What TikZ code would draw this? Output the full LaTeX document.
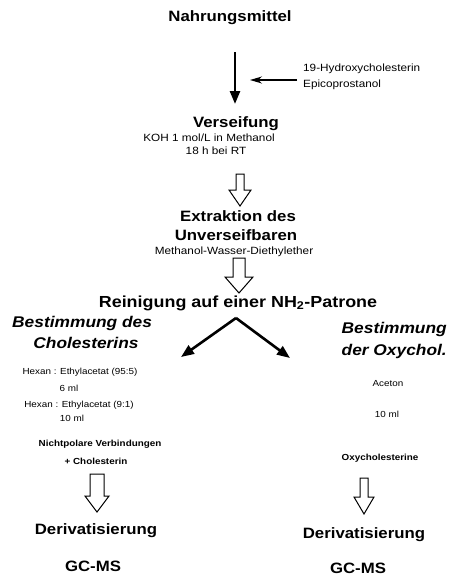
\documentclass[tikz,border=0pt]{standalone}
\usepackage{fontspec}
\setmainfont{Liberation Sans}[FakeStretch=1.12]
\usetikzlibrary{arrows.meta,calc}
\newcommand\hollowarrow[5]{%
  \draw[hollowst] let \p1=(#1),\p2=(#2) in
    (\x1-#3,\y1) -- (\x1+#3,\y1) -- (\x1+#3,\y2+#5) -- (\x1+#4,\y2+#5)
    -- (\x2,\y2) -- (\x1-#4,\y2+#5) -- (\x1-#3,\y2+#5) -- cycle;}
\begin{document}
\begin{tikzpicture}[x=1pt,y=-1pt,
  every node/.style={inner sep=0pt, align=center},
  head/.style={font=\bfseries\fontsize{15}{17}\selectfont},
  headlg/.style={font=\bfseries\fontsize{16}{18}\selectfont},
  branch/.style={font=\bfseries\itshape\fontsize{15.5}{18}\selectfont},
  mid/.style={font=\fontsize{10.5}{12}\selectfont},
  small/.style={font=\fontsize{8.8}{10}\selectfont},
  smallb/.style={font=\bfseries\fontsize{8.8}{10}\selectfont},
  thick arrow/.style={line width=2.6pt, -{Triangle[length=13pt,width=10pt]}},
  thin arrow/.style={line width=1.3pt, -{Stealth[length=12pt,width=7pt]}},
  hollowst/.style={draw=black, line width=1pt, fill=white, line join=miter}]
\useasboundingbox (0,0) rectangle (451,576);
\fill[white] (0,0) rectangle (451,576);

\node[head] (nahr) at (230,18) {Nahrungsmittel};
\coordinate (a1) at (235,52);
\coordinate (a2) at (235,104);
\draw[thick arrow] (a1) -- (a2);
\node[mid, anchor=west] (hyd) at (303,69) {19-Hydroxycholesterin};
\node[mid, anchor=west] (epi) at (303,85) {Epicoprostanol};
\coordinate (ha) at (297,80);
\coordinate (hb) at (250,80);
\draw[thin arrow] (ha) -- (hb);

\node[head] (vers) at (236,124) {Verseifung};
\node[mid] (koh) at (209,138) {KOH 1 mol/L in Methanol};
\node[mid] (rt) at (216,151) {18 h bei RT};

\coordinate (h1a) at (240,174);
\coordinate (h1b) at (240,206);
\hollowarrow{h1a}{h1b}{4}{11}{16}

\node[head] (ext) at (238,216) {Extraktion des};
\node[head] (unv) at (236,235) {Unverseifbaren};
\node[mid] (mwd) at (234,252) {Methanol-Wasser-Diethylether};

\coordinate (h2a) at (239,258);
\coordinate (h2b) at (239,293);
\hollowarrow{h2a}{h2b}{6}{14}{16}

\node[headlg] (rein) at (238,303) {Reinigung auf einer NH\textsubscript{2}-Patrone};
\coordinate (apex) at (236,318);
\coordinate (tl) at (181,357);
\coordinate (tr) at (290,358);
\draw[thick arrow] (apex) -- (tl);
\draw[thick arrow] (apex) -- (tr);

\node[branch, anchor=west] (best1) at (12,323) {Bestimmung des};
\node[branch] (chol) at (86,343) {Cholesterins};
\node[branch, anchor=east] (best2) at (447,329) {Bestimmung};
\node[branch, anchor=east] (oxy) at (447,351) {der Oxychol.};

\node[small] (hex1) at (80,372) {Hexan : Ethylacetat (95:5)};
\node[small] (ml6) at (69,388) {6 ml};
\node[small] (hex2) at (79,405) {Hexan : Ethylacetat (9:1)};
\node[small] (ml10a) at (72,418) {10 ml};
\node[smallb] (nicht) at (100,444) {Nichtpolare Verbindungen};
\node[smallb] (plus) at (96,461) {+ Cholesterin};

\node[small] (ace) at (388,384) {Aceton};
\node[small] (ml10b) at (387,414) {10 ml};
\node[smallb] (oxyc) at (380,458) {Oxycholesterine};

\coordinate (h3a) at (97,474);
\coordinate (h3b) at (97,512);
\hollowarrow{h3a}{h3b}{7}{12}{16}
\coordinate (h4a) at (364,478);
\coordinate (h4b) at (364,514);
\hollowarrow{h4a}{h4b}{4}{10}{17}

\node[head] (der1) at (96,531) {Derivatisierung};
\node[head] (der2) at (364,535) {Derivatisierung};
\node[head] (gc1) at (93,566) {GC-MS};
\node[head] (gc2) at (358,568) {GC-MS};
\end{tikzpicture}
\end{document}
